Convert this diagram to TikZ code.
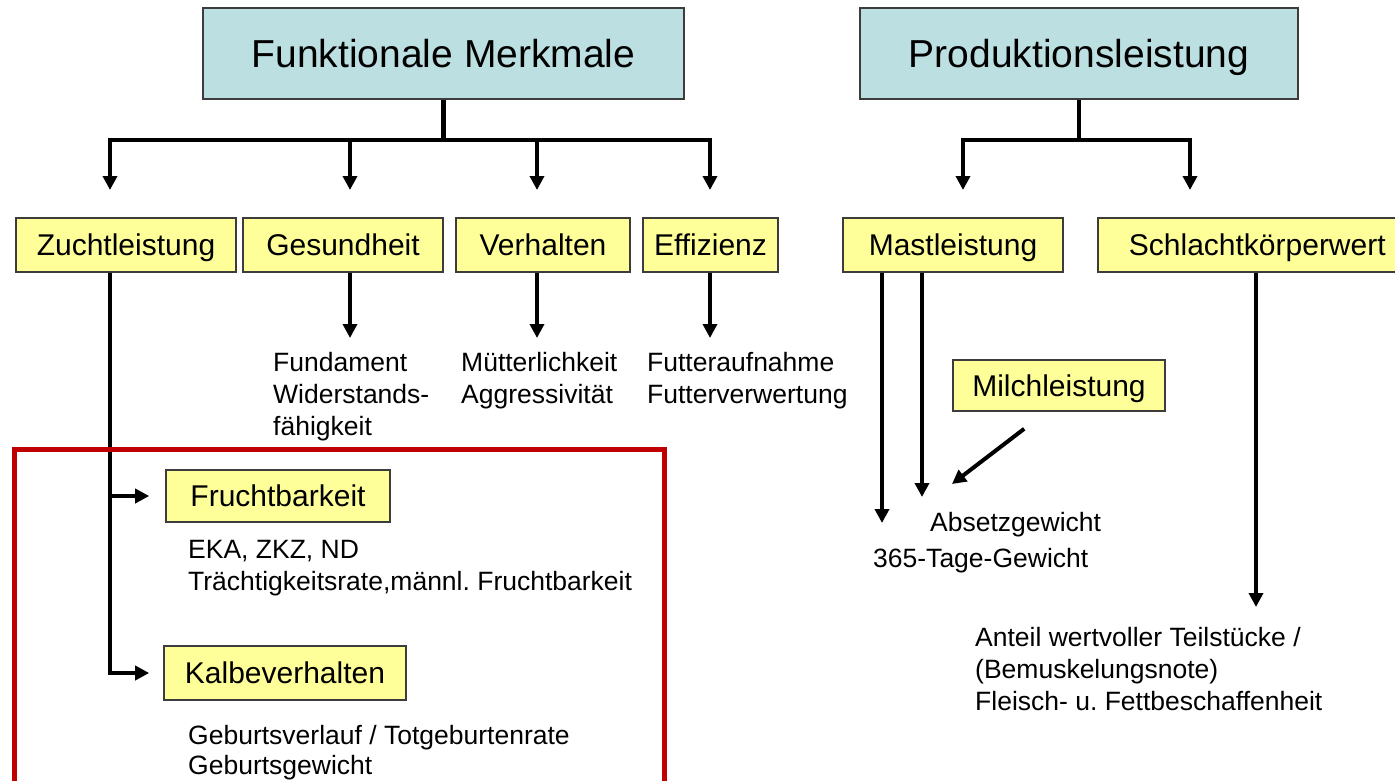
\documentclass[tikz,border=0pt]{standalone}
\usepackage{fontspec}
\setmainfont{Liberation Sans}
\usetikzlibrary{arrows.meta}
\frenchspacing
\definecolor{headblue}{RGB}{188,224,226}
\definecolor{boxyellow}{RGB}{255,255,153}
\definecolor{boxedge}{RGB}{60,60,60}
\definecolor{framered}{RGB}{192,0,0}
\tikzset{
  headbox/.style={draw=boxedge, line width=2pt, fill=headblue, inner sep=0pt,
    text height=28pt, text depth=0pt, font=\fontsize{39}{44}\selectfont},
  catbox/.style={draw=boxedge, line width=1.6pt, fill=boxyellow, inner sep=0pt,
    text height=21.5pt, text depth=0pt, font=\fontsize{30}{36}\selectfont},
  desc/.style={inner sep=0pt, anchor=north west, align=left,
    font=\fontsize{26.5}{32}\selectfont},
  line/.style={line width=4.5pt},
  arr/.style={line width=4pt, -{Triangle[length=14pt,width=14pt]}},
}
\begin{document}
\begin{tikzpicture}[x=1pt,y=-1pt]
\useasboundingbox (0,0) rectangle (1395,781);
\fill[white] (0,0) rectangle (1395,781);

% head boxes
\node[headbox, minimum width=481pt, minimum height=91pt] (fm) at (443.5,53.5) {Funktionale Merkmale};
\node[headbox, minimum width=438pt, minimum height=91pt] (pl) at (1079,53.5) {Produktionsleistung};

% category boxes
\node[catbox, minimum width=220pt, minimum height=54pt] (zucht) at (126,245) {Zuchtleistung};
\node[catbox, minimum width=200pt, minimum height=54pt] (gesund) at (343,245) {Gesundheit};
\node[catbox, minimum width=174pt, minimum height=54pt] (verh) at (543,245) {Verhalten};
\node[catbox, minimum width=135pt, minimum height=54pt] (eff) at (710.5,245) {Effizienz};
\node[catbox, minimum width=220pt, minimum height=54pt] (mast) at (953,245) {Mastleistung};
\node[catbox, minimum width=319pt, minimum height=54pt, anchor=west] (schl) at (1097,245) {\hspace*{26pt}Schlachtkörperwert\hspace*{26pt}};
\node[catbox, minimum width=212pt, minimum height=51pt] (milch) at (1059,385.5) {Milchleistung};
\node[catbox, minimum width=224pt, minimum height=52pt] (frucht) at (278,496) {Fruchtbarkeit};
\node[catbox, minimum width=242pt, minimum height=54pt] (kalbe) at (285,673) {Kalbeverhalten};

% junctions and arrow tips
\coordinate (fmj) at (443.5,140);
\coordinate (plj) at (1079,140);
\coordinate (t1) at (110,190);
\coordinate (t2) at (350,190);
\coordinate (t3) at (537,190);
\coordinate (t4) at (710,190);
\coordinate (t5) at (963,190);
\coordinate (t6) at (1190,190);
\coordinate (g1) at (350,338);
\coordinate (v1) at (537,338);
\coordinate (e1) at (710,338);
\coordinate (m1) at (882,523);
\coordinate (m2) at (922,497);
\coordinate (mk) at (952,484);
\coordinate (s1) at (1256,607);

% top trees
\draw[line] (fm.south) -- (fmj);
\draw[arr] (fmj) -| (t1);
\draw[arr] (fmj) -| (t2);
\draw[arr] (fmj) -| (t3);
\draw[arr] (fmj) -| (t4);
\draw[line] (pl.south) -- (plj);
\draw[arr] (plj) -| (t5);
\draw[arr] (plj) -| (t6);

% downward arrows
\draw[arr] (gesund.south -| g1) -- (g1);
\draw[arr] (verh.south -| v1) -- (v1);
\draw[arr] (eff.south -| e1) -- (e1);
\draw[arr] (mast.south -| m1) -- (m1);
\draw[arr] (mast.south -| m2) -- (m2);
\draw[arr] ([shift={(72,17)}]milch.south west) -- (mk);
\draw[arr] (schl.south -| s1) -- (s1);
\draw[arr, shorten >=16pt] ([xshift=-16pt]zucht.south) |- (frucht.west);
\draw[arr, shorten >=14pt] ([xshift=-16pt]zucht.south) |- (kalbe.west);

% descriptions
\node[desc] (dg) at (273,352.5) {Fundament\\Widerstands-\\fähigkeit};
\node[desc] (dv) at (461,352.5) {Mütterlichkeit\\Aggressivität};
\node[desc] (de) at (647,352.5) {Futteraufnahme\\Futterverwertung};
\node[desc] (dm1) at (930,512.5) {Absetzgewicht};
\node[desc] (dm2) at (873,548.5) {365-Tage-Gewicht};
\node[desc] (ds) at (975,627.5) {Anteil wertvoller Teilstücke /\\(Bemuskelungsnote)\\Fleisch- u. Fettbeschaffenheit};
\node[desc] (df) at (188,540.5) {EKA, ZKZ, ND\\Trächtigkeitsrate,männl. Fruchtbarkeit};
\node[desc, font=\fontsize{26.5}{30}\selectfont] (dk) at (188,725) {Geburtsverlauf / Totgeburtenrate\\Geburtsgewicht};

% red frame
\draw[framered, line width=5pt] (14.5,800) -- (14.5,449.5) -- (664,449.5) -- (664,800);
\end{tikzpicture}
\end{document}
